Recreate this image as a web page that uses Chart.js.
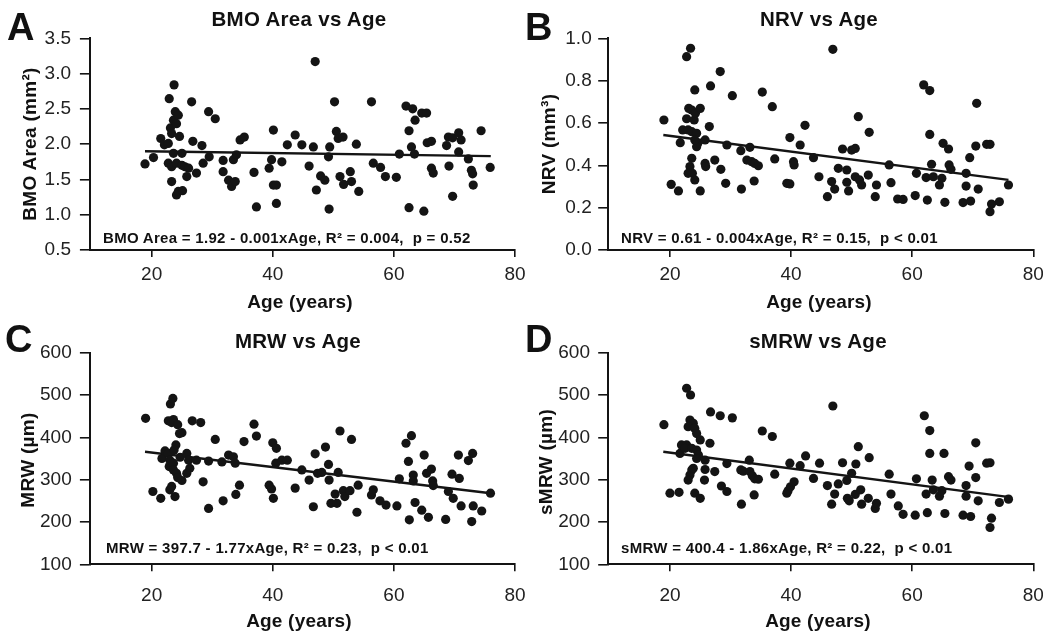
<!DOCTYPE html>
<html>
<head>
<meta charset="utf-8">
<script src="https://cdn.jsdelivr.net/npm/chart.js@4.4.1/dist/chart.umd.min.js"></script>
<style>
  body { margin: 0; background: #fff; }
  #fig { position: relative; width: 1043px; height: 633px; overflow: hidden;
         font-family: "Liberation Sans", Arial, sans-serif; color: #111; }
  canvas { position: absolute; }
  .t { position: absolute; white-space: pre; font-weight: bold; line-height: 1; }
  .title { font-size: 20.5px; letter-spacing: 0.3px; width: 400px; text-align: center; }
  .letter { font-size: 38px; }
  .eq { font-size: 15px; letter-spacing: 0.3px; }
  .xt { font-size: 19px; letter-spacing: 0.2px; width: 300px; text-align: center; }
  .yt { font-size: 19px; letter-spacing: 0.3px; transform: translate(-50%, -50%) rotate(-90deg); }
</style>
</head>
<body>
<div id="fig">
  <canvas id="cA" width="540" height="320" style="left:0;top:0"></canvas>
  <canvas id="cC" width="540" height="313" style="left:0;top:320px"></canvas>
  <canvas id="cB" width="523" height="320" style="left:520px;top:0"></canvas>
  <canvas id="cD" width="523" height="313" style="left:520px;top:320px"></canvas>

  <div class="t letter" style="left:7px;top:8px">A</div>
  <div class="t letter" style="left:525px;top:8px">B</div>
  <div class="t letter" style="left:5px;top:320px">C</div>
  <div class="t letter" style="left:525px;top:320px">D</div>

  <div class="t title" style="left:99px;top:8.7px">BMO Area vs Age</div>
  <div class="t title" style="left:619px;top:8.7px">NRV vs Age</div>
  <div class="t title" style="left:98px;top:330.6px">MRW vs Age</div>
  <div class="t title" style="left:618px;top:330.6px">sMRW vs Age</div>

  <div class="t eq" style="left:103px;top:229.8px">BMO Area = 1.92 - 0.001xAge, R² = 0.004,  p = 0.52</div>
  <div class="t eq" style="left:621px;top:229.8px">NRV = 0.61 - 0.004xAge, R² = 0.15,  p &lt; 0.01</div>
  <div class="t eq" style="left:106px;top:540.3px">MRW = 397.7 - 1.77xAge, R² = 0.23,  p &lt; 0.01</div>
  <div class="t eq" style="left:621px;top:540.3px">sMRW = 400.4 - 1.86xAge, R² = 0.22,  p &lt; 0.01</div>

  <div class="t xt" style="left:150px;top:292px">Age (years)</div>
  <div class="t xt" style="left:669px;top:292px">Age (years)</div>
  <div class="t xt" style="left:149px;top:611.4px">Age (years)</div>
  <div class="t xt" style="left:668px;top:611.4px">Age (years)</div>

  <div class="t yt" style="left:29px;top:144px">BMO Area (mm²)</div>
  <div class="t yt" style="left:548px;top:144px">NRV (mm³)</div>
  <div class="t yt" style="left:27px;top:460px">MRW (µm)</div>
  <div class="t yt" style="left:545px;top:462px">sMRW (µm)</div>
</div>
<script>
// x axis shared by all panels
const xTicks = [20, 40, 60, 80];

// A: BMO area
const ageA = [18.9, 20.3, 21.5, 22.1, 22.75, 22.9, 23.7, 23.1, 23.3, 23.6, 23.9, 24.4, 24.1, 24.6, 23.6, 25.0,
  22.75, 23.3, 24.1, 25.0, 25.5, 26.1, 23.3, 24.1, 24.4, 25.1, 25.8, 26.6, 26.8, 27.4, 28.3, 28.5, 29.4, 29.5,
  30.5, 31.8, 31.8, 32.7, 33.2, 33.8, 33.5, 34.0, 34.6, 35.3, 36.9, 37.3, 39.4, 39.8, 40.1, 40.1, 40.6, 40.6,
  41.5, 42.4, 43.7, 44.8, 46.0, 46.7, 47.0, 47.2, 47.9, 48.6, 49.2, 49.4, 49.3, 50.2, 50.5, 50.8, 51.6, 51.1,
  51.7, 52.8, 53.0, 53.8, 54.2, 56.3, 56.6, 57.8, 58.6, 60.4, 60.9, 62.0, 63.1, 62.5, 62.9, 63.4, 63.5, 62.5,
  64.6, 65.4, 64.95, 65.5, 66.2, 66.2, 66.5, 68.7, 69.0, 69.7, 69.1, 69.7, 70.7, 71.1, 70.7, 72.3, 72.8, 73.0,
  73.1, 74.4, 75.9];
const bmoArea = [1.72, 1.81, 2.08, 1.99, 2.01, 2.645, 2.84, 2.23, 2.15, 2.34, 2.46, 2.41, 2.29, 2.11, 1.87, 1.87,
  1.73, 1.68, 1.73, 1.70, 1.68, 1.66, 1.47, 1.28, 1.33, 1.34, 1.54, 2.60, 2.04, 1.59, 1.98, 1.73, 2.46, 1.82,
  2.36, 1.61, 1.77, 1.49, 1.40, 1.47, 1.78, 1.85, 2.06, 2.10, 1.60, 1.11, 1.66, 1.78, 2.20, 1.42, 1.42, 1.16,
  1.75, 1.99, 2.13, 1.99, 1.69, 1.96, 3.17, 1.35, 1.55, 1.49, 1.82, 1.96, 1.08, 2.60, 2.18, 2.08, 2.10, 1.54,
  1.43, 1.61, 1.47, 2.00, 1.33, 2.60, 1.73, 1.67, 1.54, 1.53, 1.86, 2.54, 2.50, 2.19, 1.96, 1.86, 2.34, 1.10,
  2.44, 2.44, 1.05, 2.02, 2.04, 1.66, 1.59, 1.98, 2.10, 2.09, 1.69, 1.26, 2.16, 2.06, 1.89, 1.79, 1.63, 1.58,
  1.42, 2.19, 1.67];
const fitAgeA = [18.9, 76.0];
const fitBmo = [1.90, 1.83];

// B: NRV
const ageB = [19.0, 20.2, 21.4, 21.7, 22.1, 22.75, 23.4, 22.75, 23.1, 23.6, 24.0, 24.2, 25.0, 24.1, 23.0, 23.6,
  24.4, 24.6, 24.4, 24.1, 23.6, 23.3, 23.0, 23.7, 24.1, 25.0, 25.8, 25.8, 25.9, 26.5, 26.7, 27.4, 28.3, 28.4,
  29.4, 29.2, 30.3, 31.7, 31.8, 32.7, 33.2, 33.5, 34.0, 34.6, 33.9, 35.25, 36.9, 37.3, 39.3, 39.8, 39.8, 40.4,
  40.5, 41.5, 42.3, 43.7, 44.6, 46.0, 46.7, 46.9, 47.2, 47.8, 48.5, 49.2, 49.2, 49.5, 50.0, 50.6, 50.6, 51.3,
  51.65, 51.1, 52.75, 52.9, 53.9, 54.1, 56.2, 56.5, 57.6, 58.5, 60.5, 60.7, 61.9, 62.9, 62.3, 62.5, 62.9, 63.2,
  63.5, 64.5, 64.9, 65.1, 66.0, 65.4, 66.1, 66.4, 68.4, 68.9, 68.9, 69.5, 69.65, 70.5, 70.65, 70.9, 72.3, 72.85,
  72.85, 73.1, 74.4, 75.9];
const nrv = [0.614, 0.310, 0.279, 0.507, 0.567, 0.913, 0.953, 0.620, 0.669, 0.661, 0.614, 0.646, 0.669, 0.756, 0.567, 0.559,
  0.551, 0.504, 0.488, 0.520, 0.433, 0.394, 0.362, 0.362, 0.331, 0.279, 0.520, 0.409, 0.394, 0.583, 0.775, 0.425, 0.843, 0.381,
  0.496, 0.315, 0.729, 0.469, 0.288, 0.425, 0.485, 0.417, 0.409, 0.398, 0.326, 0.746, 0.677, 0.430, 0.315, 0.312, 0.531, 0.417,
  0.402, 0.496, 0.589, 0.436, 0.346, 0.252, 0.323, 0.948, 0.288, 0.386, 0.477, 0.378, 0.320, 0.279, 0.472, 0.480, 0.346, 0.331,
  0.307, 0.630, 0.354, 0.556, 0.252, 0.307, 0.402, 0.318, 0.241, 0.239, 0.257, 0.362, 0.780, 0.753, 0.342, 0.236, 0.546, 0.405,
  0.346, 0.307, 0.339, 0.504, 0.477, 0.225, 0.402, 0.381, 0.224, 0.362, 0.302, 0.436, 0.231, 0.491, 0.693, 0.288, 0.499, 0.499,
  0.181, 0.217, 0.228, 0.307];
const fitAgeB = [18.9, 75.9];
const fitNrv = [0.543, 0.331];

// C: MRW
const ageC = [19.0, 20.2, 21.5, 21.7, 22.2, 22.75, 22.9, 23.1, 23.5, 22.75, 23.3, 23.6, 24.3, 25.0, 24.6, 24.0,
  23.7, 23.0, 23.6, 24.7, 23.6, 24.1, 24.3, 25.0, 23.3, 23.0, 23.85, 25.8, 26.1, 26.3, 25.8, 26.7, 27.4, 28.1,
  28.5, 29.4, 29.4, 30.5, 31.8, 31.6, 32.7, 33.5, 33.8, 33.9, 34.5, 35.25, 36.9, 37.3, 39.4, 39.8, 40.1, 40.0,
  40.6, 40.5, 41.5, 42.4, 43.7, 44.8, 46.0, 46.7, 47.0, 47.4, 48.1, 48.7, 49.2, 49.3, 49.6, 50.6, 50.3, 50.8,
  51.1, 51.65, 51.9, 52.75, 53.0, 54.1, 53.9, 56.3, 56.6, 57.7, 58.7, 60.5, 60.9, 62.0, 62.9, 62.4, 62.55, 63.2,
  63.2, 63.5, 64.6, 65.0, 65.4, 66.2, 66.4, 66.5, 65.7, 68.55, 69.0, 69.6, 69.8, 70.65, 70.8, 71.1, 72.3, 73.0,
  72.85, 73.1, 74.5, 75.95];
const mrw = [445, 272, 256, 350, 368, 362, 331, 479, 492, 439, 435, 442, 430, 411, 409, 382,
  370, 346, 339, 353, 323, 315, 305, 298, 284, 276, 260, 362, 346, 327, 315, 439, 346, 435,
  295, 344, 232, 395, 250, 342, 358, 354, 339, 265, 287, 390, 431, 403, 287, 278, 256, 387,
  374, 339, 346, 346, 280, 323, 299, 236, 361, 315, 317, 377, 336, 299, 244, 244, 266, 317,
  415, 274, 260, 274, 395, 287, 223, 264, 276, 250, 240, 238, 302, 386, 404, 343, 205, 311,
  297, 246, 228, 358, 315, 325, 297, 286, 211, 206, 272, 313, 256, 358, 303, 238, 345, 362,
  201, 238, 226, 268];
const fitAgeC = [18.9, 76.0];
const fitMrw = [366, 268];

// D: sMRW
const ageD = [19.0, 20.0, 21.5, 21.65, 21.9, 22.75, 22.5, 22.75, 23.4, 23.3, 23.85, 23.0, 24.1, 24.4, 25.0, 23.6,
  24.4, 24.7, 24.4, 25.8, 23.6, 23.3, 23.0, 23.85, 25.8, 25.7, 24.1, 25.0, 26.6, 26.7, 27.4, 28.3, 28.5, 29.4,
  29.4, 30.3, 31.7, 32.1, 31.8, 33.1, 33.2, 33.6, 34.0, 34.6, 33.9, 35.25, 36.9, 37.3, 39.3, 39.5, 39.9, 39.8,
  40.5, 41.5, 42.4, 43.7, 44.7, 46.0, 46.7, 46.9, 47.2, 47.8, 48.5, 49.2, 49.3, 49.6, 50.0, 50.6, 50.7, 51.1,
  51.5, 51.65, 52.75, 52.9, 53.9, 54.1, 56.2, 56.5, 57.7, 58.5, 60.5, 60.7, 62.0, 62.9, 62.3, 62.5, 62.9, 63.3,
  63.5, 64.5, 64.9, 65.25, 66.0, 66.4, 65.4, 68.4, 68.9, 68.9, 69.4, 69.65, 70.5, 70.5, 70.9, 72.3, 72.85, 72.85,
  73.1, 74.4, 75.9];
const smrw = [430, 268, 270, 362, 382, 382, 374, 516, 500, 441, 433, 425, 421, 409, 394, 374,
  370, 358, 350, 346, 323, 311, 299, 327, 324, 299, 268, 256, 386, 460, 319, 451, 285, 338,
  272, 446, 323, 320, 242, 346, 319, 309, 302, 301, 264, 415, 402, 313, 268, 274, 283, 339,
  295, 333, 356, 303, 339, 286, 242, 474, 266, 290, 340, 298, 256, 250, 315, 265, 337, 378,
  276, 242, 256, 352, 232, 244, 313, 266, 238, 218, 216, 302, 451, 416, 266, 222, 362, 299,
  276, 261, 274, 362, 307, 299, 220, 216, 286, 261, 332, 213, 305, 387, 250, 339, 340, 187,
  209, 246, 254];
const fitAgeD = [18.9, 76.4];
const fitSmrw = [366, 258];

function zip(xs, ys) {
  return xs.map((x, i) => ({ x: x, y: ys[i] }));
}

const ink = '#141414';
const tickFont = { family: "'Liberation Sans', Arial, sans-serif", size: 19, lineHeight: 1.2 };

function makePanel(id, ages, vals, fitX, fitY, o) {
  new Chart(document.getElementById(id), {
    type: 'scatter',
    data: {
      datasets: [{
        data: zip(ages, vals),
        backgroundColor: ink,
        borderWidth: 0,
        pointRadius: 4.6,
        pointHoverRadius: 4.6
      }, {
        data: zip(fitX, fitY),
        showLine: true,
        borderColor: ink,
        borderWidth: 2.4,
        pointRadius: 0
      }]
    },
    options: {
      responsive: false,
      animation: false,
      devicePixelRatio: 1,
      layout: { padding: { left: 0, top: o.top, right: o.right, bottom: 0 } },
      plugins: { legend: { display: false }, tooltip: { enabled: false } },
      scales: {
        x: {
          type: 'linear',
          min: 9.8,
          max: 80,
          afterBuildTicks: s => { s.ticks = xTicks.map(v => ({ value: v })); },
          afterFit: s => { s.height = o.xh; s.paddingLeft = 0; s.paddingRight = 0; },
          grid: { drawOnChartArea: false, tickLength: 7, color: ink, lineWidth: 1.6 },
          border: { color: ink, width: 2 },
          ticks: { font: tickFont, color: '#222', padding: o.xpad, maxRotation: 0 }
        },
        y: {
          min: o.ymin,
          max: o.ymax,
          afterFit: s => { s.width = o.left; s.paddingTop = 0; s.paddingBottom = 0; },
          grid: { drawOnChartArea: false, tickLength: 10, color: ink, lineWidth: 1.6 },
          border: { color: ink, width: 2 },
          ticks: {
            stepSize: o.step,
            font: tickFont,
            color: '#222',
            padding: o.ypad,
            callback: v => v.toFixed(o.dec)
          }
        }
      }
    }
  });
}

makePanel('cA', ageA, bmoArea, fitAgeA, fitBmo,
  { left: 89.9, right: 25, top: 38.3, xh: 70, xpad: 6.6, ypad: 8.9, ymin: 0.5, ymax: 3.5, step: 0.5, dec: 1 });
makePanel('cB', ageB, nrv, fitAgeB, fitNrv,
  { left: 88.2, right: 9.7, top: 38.3, xh: 70, xpad: 6.6, ypad: 6.5, ymin: 0, ymax: 1, step: 0.2, dec: 1 });
makePanel('cC', ageC, mrw, fitAgeC, fitMrw,
  { left: 89.9, right: 25, top: 32.7, xh: 68.7, xpad: 12.8, ypad: 8.2, ymin: 100, ymax: 600, step: 100, dec: 0 });
makePanel('cD', ageD, smrw, fitAgeD, fitSmrw,
  { left: 88.2, right: 9.7, top: 32.7, xh: 68.7, xpad: 12.8, ypad: 8.2, ymin: 100, ymax: 600, step: 100, dec: 0 });
</script>
</body>
</html>
